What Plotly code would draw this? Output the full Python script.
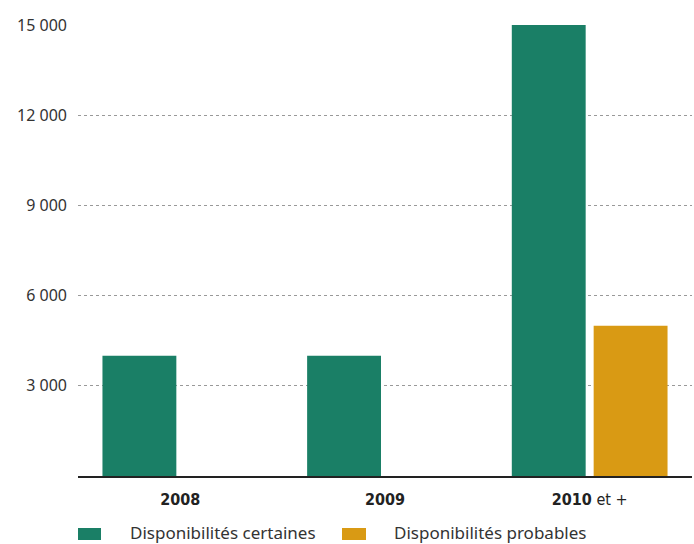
import plotly.graph_objects as go

categories = ["2008", "2009", "2010 et +"]
cat_labels = ["<b>2008</b>", "<b>2009</b>", "<b>2010</b> et +"]
series_names = ["Disponibilités certaines", "Disponibilités probables"]
series_colors = ["#1A7F66", "#D99A14"]
certaines = [4000, 4000, 15000]
probables = [None, None, 5000]
y_ticks = [3000, 6000, 9000, 12000, 15000]
y_tick_text = ["3 000", "6 000", "9 000", "12 000", "15 000"]

fig = go.Figure()
fig.add_trace(go.Bar(x=categories, y=certaines, name=series_names[0],
                     marker=dict(color=series_colors[0], line=dict(width=0))))
fig.add_trace(go.Bar(x=categories, y=probables, name=series_names[1],
                     marker=dict(color=series_colors[1], line=dict(width=0))))

W, H = 694, 544
ML, MR, MT, MB = 78, 2, 25, 68
pw, ph = W - ML - MR, H - MT - MB

def px(x):
    return (x - ML) / pw

def py(y):
    return (H - MB - y) / ph

# manual legend (wide rectangular swatches as in the reference)
legend_items = [(78, 101, 128), (342, 366, 392)]
shapes, annotations = [], []
for (x0, x1, tx), name, col in zip(legend_items, series_names, series_colors):
    shapes.append(dict(type="rect", xref="paper", yref="paper",
                       x0=px(x0), x1=px(x1), y0=py(540), y1=py(528),
                       fillcolor=col, line=dict(width=0)))
    annotations.append(dict(xref="paper", yref="paper", x=px(tx), y=py(532),
                            xanchor="left", yanchor="middle", text=name,
                            showarrow=False,
                            font=dict(family="Noto Sans", size=17, color="#333333")))

fig.update_layout(
    width=W, height=H,
    margin=dict(l=ML, r=MR, t=MT, b=MB, autoexpand=False),
    paper_bgcolor="white", plot_bgcolor="white",
    barmode="group", bargap=0.2, bargroupgap=0.0976,
    font=dict(family="Noto Sans", color="#333333", size=16),
    showlegend=False,
    shapes=shapes, annotations=annotations,
)
fig.update_xaxes(
    tickmode="array", tickvals=categories, ticktext=cat_labels,
    tickfont=dict(family="DejaVu Sans Condensed", size=16, color="#222222"),
    showline=True, linecolor="#222222", linewidth=1.5,
    ticks="", showgrid=False, automargin=False, ticklabelstandoff=8,
)
fig.update_yaxes(
    range=[0, 15000], tickmode="array", tickvals=y_ticks, ticktext=y_tick_text,
    showgrid=True, gridcolor="#999999", griddash="dot", gridwidth=1,
    zeroline=False, showline=False, ticks="", ticklabelstandoff=10,
    tickfont=dict(size=16, color="#333333"), automargin=False,
)
fig.write_html("out.html")
